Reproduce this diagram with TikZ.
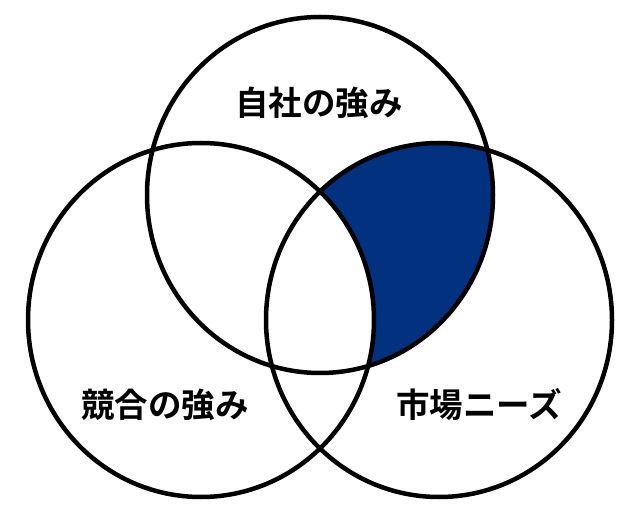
\documentclass[tikz,border=0pt]{standalone}
\usepackage{fontspec}
\newfontfamily\jpfont{Noto Sans CJK JP Bold}
\definecolor{navy}{RGB}{2,50,127}
\tikzset{
  ring/.style={draw=black, line width=4.5pt},
  label/.style={font=\jpfont\fontsize{33.5pt}{40pt}\selectfont, text=black, inner sep=0pt}
}
\begin{document}
\begin{tikzpicture}[x=1pt,y=-1pt]
\useasboundingbox (0,0) rectangle (640,510);
\fill[white] (0,0) rectangle (640,510);
\begin{scope}
  \clip (320,195) ellipse [x radius=173, y radius=178];
  \clip (439,320) ellipse [x radius=173, y radius=177];
  \fill[navy] (0,0) rectangle (640,510);
  \fill[white] (201,320) ellipse [x radius=173, y radius=177];
\end{scope}
\draw[ring] (320,195) ellipse [x radius=173, y radius=178];
\draw[ring] (201,320) ellipse [x radius=173, y radius=177];
\draw[ring] (439,320) ellipse [x radius=173, y radius=177];
\node[label] (own) at (319,103) {自社の強み};
\node[label] (comp) at (165,405) {競合の強み};
\node[label] (market) at (479,405) {市場ニーズ};
\end{tikzpicture}
\end{document}
